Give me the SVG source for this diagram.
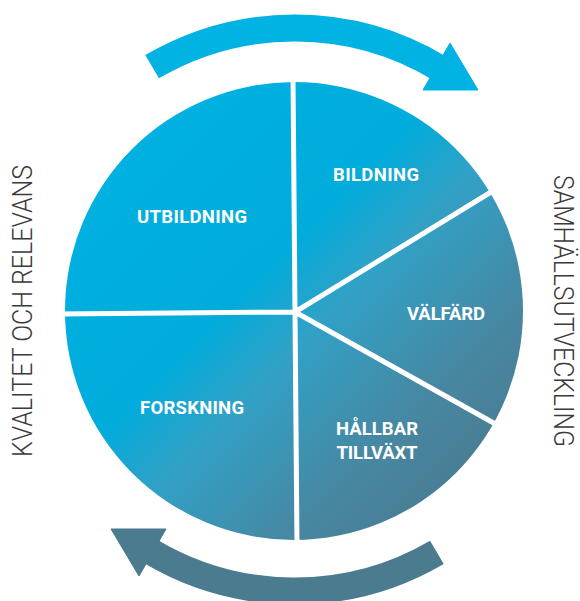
<svg xmlns="http://www.w3.org/2000/svg" width="580" height="601" viewBox="0 0 580 601">
<defs>
<style>
.lbl{font-family:Roboto,"Liberation Sans",sans-serif;font-weight:700;font-size:18.5px;fill:#ffffff;text-anchor:middle;}
.side{font-family:Roboto,"Liberation Sans",sans-serif;font-weight:300;font-size:28px;fill:#3a3a3a;text-anchor:middle;}
.cut{stroke:#ffffff;stroke-width:5;fill:none;}
</style>
<linearGradient id="g" gradientUnits="userSpaceOnUse" x1="64" y1="82" x2="524" y2="540">
<stop offset="0" stop-color="#00B3E3"/>
<stop offset="0.42" stop-color="#00ACDC"/>
<stop offset="0.54" stop-color="#31A1C6"/>
<stop offset="0.75" stop-color="#4886A0"/>
<stop offset="1" stop-color="#477487"/>
</linearGradient>
<g id="arrow">
<path d="M152.1 66.7 A281.5 281.5 0 0 1 439.5 68.2" stroke-width="27" fill="none"/>
<polygon points="423,90 450,43 478,90"/>
</g>
</defs>
<g id="connectors">
<use href="#arrow" stroke="#00B3E3" fill="#00B3E3"/>
<use href="#arrow" stroke="#4A7B8F" fill="#4A7B8F" transform="rotate(180 294.5 309.5)"/>
</g>
<g id="wheel">
<circle cx="294" cy="311" r="229" fill="url(#g)"/>
<path class="cut" d="M295 312 L293 76 M295 312 L58 314 M295 312 L297 546 M295 312 L496 189 M295 312 L499 426"/>
</g>
<g id="utbildning"><text class="lbl" x="192" y="223" textLength="110" lengthAdjust="spacing">UTBILDNING</text></g>
<g id="bildning"><text class="lbl" x="376" y="181" textLength="86" lengthAdjust="spacing">BILDNING</text></g>
<g id="valfard"><text class="lbl" x="446" y="320" textLength="78" lengthAdjust="spacing">VÄLFÄRD</text></g>
<g id="forskning"><text class="lbl" x="192" y="414" textLength="104" lengthAdjust="spacing">FORSKNING</text></g>
<g id="hallbar"><text class="lbl" x="377" y="435" textLength="82" lengthAdjust="spacing">HÅLLBAR</text><text class="lbl" x="377" y="459" textLength="81" lengthAdjust="spacing">TILLVÄXT</text></g>
<g id="kvalitet"><text class="side" transform="translate(32 311) rotate(-90)" x="0" y="0" textLength="292" lengthAdjust="spacingAndGlyphs">KVALITET OCH RELEVANS</text></g>
<g id="samhallsutveckling"><text class="side" style="font-size:27px" transform="translate(554 311) rotate(90)" x="0" y="0" textLength="272" lengthAdjust="spacingAndGlyphs">SAMHÄLLSUTVECKLING</text></g>
</svg>
